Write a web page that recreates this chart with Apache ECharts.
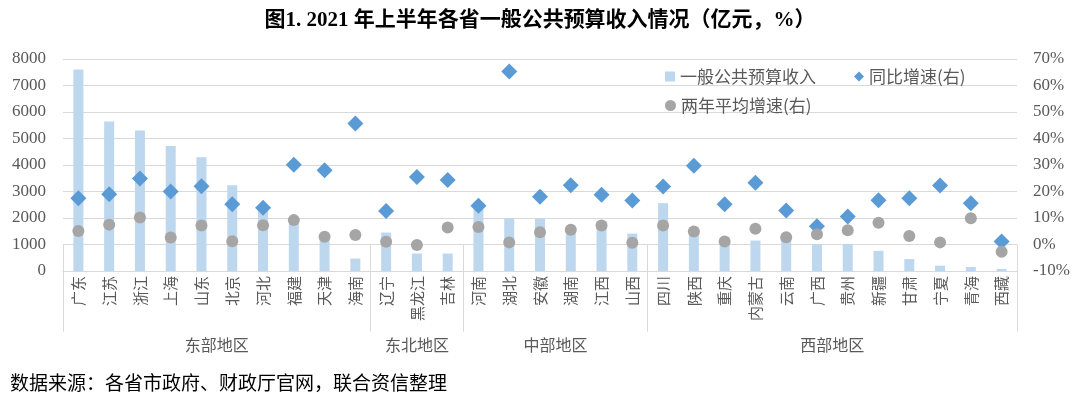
<!DOCTYPE html>
<html>
<head>
<meta charset="utf-8">
<script src="https://cdn.jsdelivr.net/npm/echarts@6/dist/echarts.min.js"></script>
<style>
html,body{margin:0;padding:0;background:#fff;}
#chart{width:1080px;height:397px;}
</style>
</head>
<body>
<div id="chart"></div>
<script>
var categories = ['广东','江苏','浙江','上海','山东','北京','河北','福建','天津','海南','辽宁','黑龙江','吉林','河南','湖北','安徽','湖南','江西','山西','四川','陕西','重庆','内蒙古','云南','广西','贵州','新疆','甘肃','宁夏','青海','西藏'];
var revenue = [7600,5640,5300,4720,4290,3240,2350,2000,1280,470,1450,660,660,2420,1990,1980,1640,1700,1410,2560,1530,1150,1150,1200,1010,1010,760,450,200,150,80];
var yoyGrowth = [17.5,19.0,24.9,20.0,22.0,15.2,13.9,30.1,28.0,45.7,12.6,25.5,24.3,14.6,65.3,18.0,22.4,18.8,16.6,21.9,29.7,15.2,23.3,12.8,6.9,10.6,16.7,17.5,22.3,15.6,1.1];
var twoYearAvg = [5.1,7.5,10.2,2.6,7.2,1.2,7.3,9.2,2.9,3.6,1.0,-0.2,6.4,6.6,0.8,4.6,5.6,7.2,0.7,7.2,4.9,1.1,5.9,2.7,3.9,5.4,8.2,3.2,0.8,9.9,-2.7];
var groupNames = ['东部地区','东北地区','中部地区','西部地区'];
var groupSizes = [10,3,6,12];
var leftTicks = [0,1000,2000,3000,4000,5000,6000,7000,8000];
var rightTicks = [-10,0,10,20,30,40,50,60,70];

var boundaries = [0], centers = [], acc = 0;
groupSizes.forEach(function(s){ centers.push(acc + s/2); acc += s; boundaries.push(acc); });

var grey = '#595959';
var cjk = '"Noto Sans CJK SC", sans-serif';
var serif = '"Liberation Serif", "Noto Sans CJK SC", serif';

var chart = echarts.init(document.getElementById('chart'));
chart.setOption({
  animation: false,
  backgroundColor: '#fff',
  title: {
    text: '图1. 2021 年上半年各省一般公共预算收入情况（亿元，%）',
    left: 'center', top: 5,
    textStyle: {fontFamily: serif, fontSize: 21, fontWeight: 'bold', color: '#000'}
  },
  legend: [{
    left: 660, top: 63, itemGap: 38, itemWidth: 10, itemHeight: 10,
    textStyle: {fontFamily: cjk, fontSize: 17, color: grey},
    data: [{name: '一般公共预算收入', icon: 'rect'}, {name: '同比增速(右)', icon: 'diamond'}]
  }, {
    left: 660, top: 92, itemWidth: 11, itemHeight: 11,
    textStyle: {fontFamily: cjk, fontSize: 17, color: grey},
    data: [{name: '两年平均增速(右)', icon: 'circle'}]
  }],
  grid: {left: 63, right: 63, top: 59, bottom: 126, containLabel: false},
  xAxis: [{
    type: 'category', data: categories,
    axisLine: {show: true, lineStyle: {color: '#d9d9d9', width: 1}},
    axisTick: {show: false},
    axisLabel: {interval: 0, rotate: 90, margin: 5, fontSize: 15, fontFamily: cjk, color: grey}
  }, {
    type: 'value', min: 0, max: categories.length, position: 'bottom',
    axisLine: {show: false},
    splitLine: {show: false},
    axisTick: {show: true, customValues: boundaries, length: 87, lineStyle: {color: '#d9d9d9', width: 1}},
    axisLabel: {
      customValues: centers, margin: 66, fontSize: 16, fontFamily: cjk, color: grey,
      formatter: function(v){ var i = centers.indexOf(v); return i >= 0 ? groupNames[i] : ''; }
    }
  }],
  yAxis: [{
    type: 'value', min: leftTicks[0], max: leftTicks[leftTicks.length-1], interval: 1000,
    axisLine: {show: false}, axisTick: {show: false},
    splitLine: {lineStyle: {color: '#d9d9d9', width: 1}},
    axisLabel: {margin: 17, fontSize: 17, fontFamily: serif, color: grey, formatter: function(v){ return String(v); }}
  }, {
    type: 'value', min: rightTicks[0], max: rightTicks[rightTicks.length-1], interval: 10,
    axisLine: {show: false}, axisTick: {show: false}, splitLine: {show: false},
    axisLabel: {margin: 16, fontSize: 17, fontFamily: serif, color: grey, formatter: '{value}%'}
  }],
  series: [{
    name: '一般公共预算收入', type: 'bar', data: revenue, barWidth: 10,
    itemStyle: {color: '#BDD7EE'}, xAxisIndex: 0, yAxisIndex: 0
  }, {
    name: '同比增速(右)', type: 'scatter', data: yoyGrowth, symbol: 'diamond', symbolSize: 16,
    itemStyle: {color: '#5B9BD5', opacity: 1}, xAxisIndex: 0, yAxisIndex: 1
  }, {
    name: '两年平均增速(右)', type: 'scatter', data: twoYearAvg, symbol: 'circle', symbolSize: 12,
    itemStyle: {color: '#A5A5A5', opacity: 1}, xAxisIndex: 0, yAxisIndex: 1
  }],
  graphic: [{
    type: 'text', left: 10, top: 373,
    style: {text: '数据来源：各省市政府、财政厅官网，联合资信整理', fontFamily: cjk, fontSize: 19, fill: '#000'}
  }]
});
</script>
</body>
</html>
